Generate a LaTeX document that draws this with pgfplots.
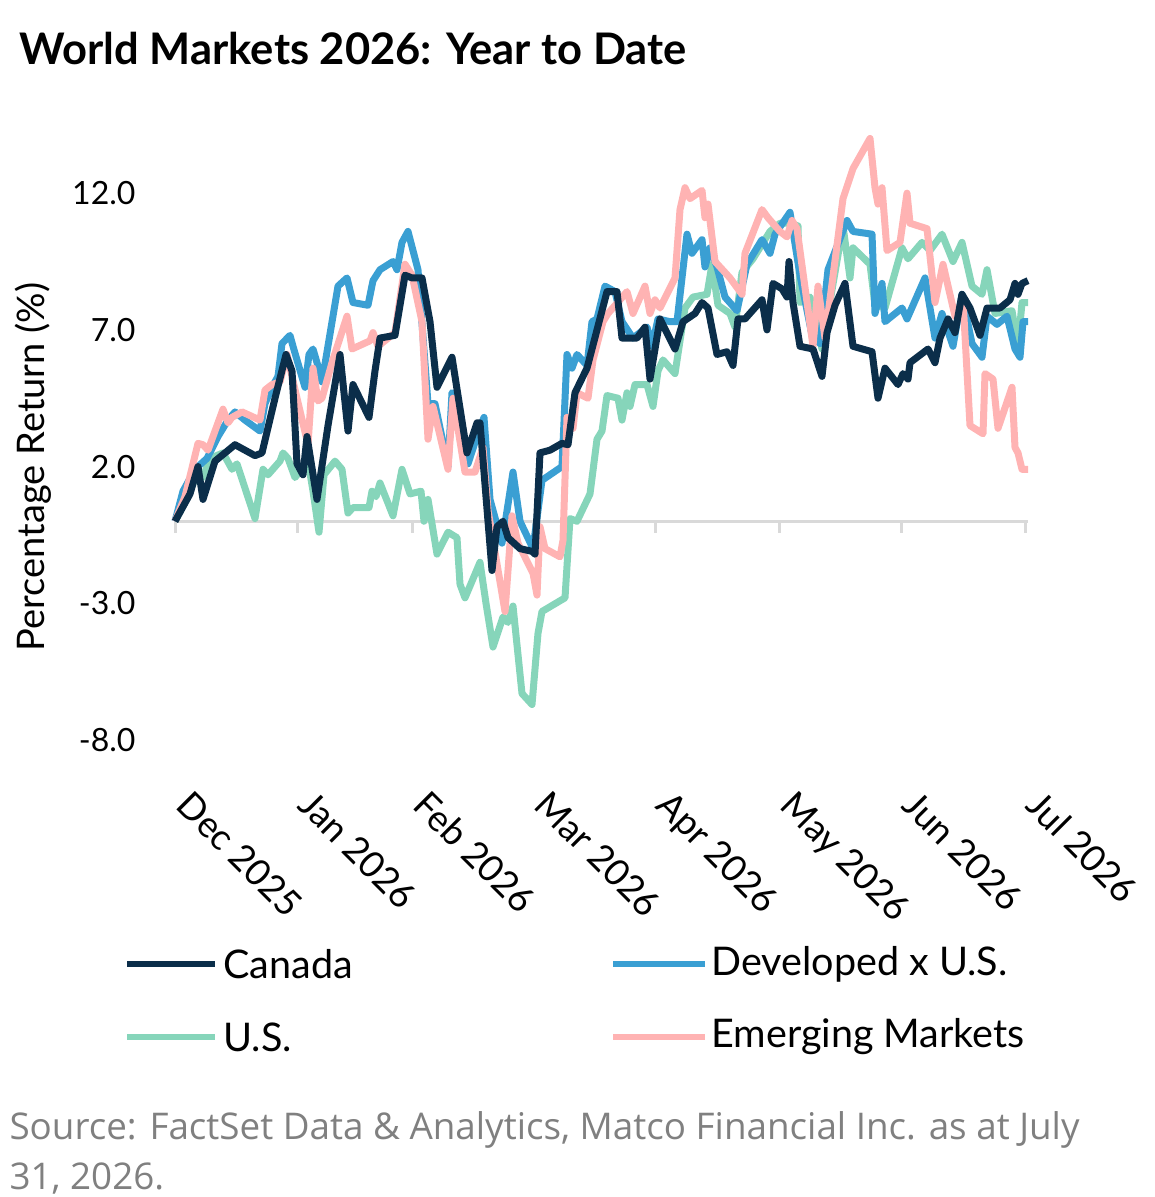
\documentclass[border=0pt]{standalone}
\usepackage{pgfplots}
\pgfplotsset{compat=1.18}
\usepackage{fontspec}
\setmainfont{Lato}
\newfontfamily\srcfont{Open Sans}
\definecolor{cCan}{HTML}{0B2E4A}
\definecolor{cDev}{HTML}{3A9FD3}
\definecolor{cUS}{HTML}{86D5BA}
\definecolor{cEM}{HTML}{FFB3B3}
\definecolor{cAx}{HTML}{D9D9D9}
\tikzset{ser/.style={line width=7pt,line join=round,no marks}}
\begin{document}
\begin{tikzpicture}[x=1pt,y=1pt]
\path[use as bounding box] (0pt,0pt) rectangle (1155pt,-1197pt);
\node[anchor=base west,font=\fontsize{43.5}{46}\selectfont\bfseries] at (16pt,-64pt) {World Markets 2026: Year to Date};
\begin{axis}[at={(175pt,-740pt)},anchor=south west,scale only axis,width=853pt,height=607pt,
 xmin=175,xmax=1028,ymin=-8,ymax=14.2,
 axis line style={draw=none},
 ytick={-8,-3,2,7,12},
 yticklabels={-8.0,-3.0,2.0,7.0,12.0},
 yticklabel style={font=\fontsize{32}{34}\selectfont,anchor=east,xshift=-36pt},
 /pgf/number format/assume math mode=true,
 ytick style={draw=none},
 xtick={175,297,412,533,655,779,901,1025},
 xticklabels={Dec 2025,Jan 2026,Feb 2026,Mar 2026,Apr 2026,May 2026,Jun 2026,Jul 2026},
 xticklabel style={font=\fontsize{36.5}{38}\selectfont,rotate=-45,anchor=north west,xshift=44pt,yshift=-18pt},
 xtick style={draw=none},
 ylabel={Percentage Return (\%)},
 ylabel style={font=\fontsize{38}{40}\selectfont,at={(ticklabel cs:0.45)},yshift=14pt},
 clip=false]
\draw[cAx,line width=3pt] (axis cs:175,0)--(axis cs:1028,0);
\pgfplotsinvokeforeach{175,297,412,533,655,779,901,1025}{\draw[cAx,line width=3pt] (axis cs:#1,0)--([yshift=-12pt]axis cs:#1,0);}
\addplot[cUS,ser] coordinates {(175,0)(185,0.7)(198,1.8)(203,1.6)(210,2.3)(223,2.5)(232,1.9)(237,2.1)(255,0.1)(263,1.9)(268,1.7)(280,2.2)(283,2.5)(288,2.3)(295,1.6)(308,2.2)(313,1.1)(319,-0.4)(324,1.7)(335,2.2)(342,1.9)(348,0.3)(353,0.5)(369,0.5)(372,1.1)(376,0.9)(380,1.4)(393,0.2)(402,1.9)(410,1.0)(421,1.1)(424,0)(428,0.8)(437,-1.2)(448,-0.4)(457,-0.6)(460,-2.3)(465,-2.8)(480,-1.5)(486,-3.0)(493,-4.6)(503,-3.5)(508,-3.7)(513,-3.1)(522,-6.3)(532,-6.7)(538,-4.1)(542,-3.3)(565,-2.8)(570,0.1)(577,0)(590,1.0)(597,3.0)(602,3.3)(607,4.6)(618,4.5)(622,3.7)(627,4.7)(630,4.2)(635,5.0)(647,5.0)(653,4.2)(658,5.5)(663,5.9)(675,5.4)(685,7.8)(693,8.2)(707,8.3)(712,9.4)(718,7.9)(730,7.6)(735,7.1)(742,9.1)(753,9.6)(770,10.6)(780,10.9)(790,10.9)(798,10.8)(800,8.0)(810,8.2)(822,6.3)(827,7.4)(843,10.8)(850,8.9)(853,10.0)(870,9.4)(875,7.9)(885,7.8)(902,10.0)(908,9.6)(922,10.2)(930,9.9)(942,10.5)(953,9.5)(962,10.2)(972,8.6)(982,8.3)(987,9.2)(995,7.6)(1012,7.7)(1018,6.4)(1022,8.0)(1028,8.0)};
\addplot[cDev,ser] coordinates {(175,0)(183,1.1)(195,1.9)(207,2.3)(218,3.1)(228,3.7)(235,4.0)(245,3.7)(260,3.3)(265,4.3)(272,4.9)(278,5.3)(282,6.5)(290,6.8)(293,6.4)(305,4.9)(309,6.1)(313,6.3)(317,5.8)(322,5.1)(338,8.6)(347,8.9)(353,8.0)(368,7.9)(373,8.8)(380,9.2)(393,9.5)(397,9.2)(402,10.2)(408,10.6)(418,9.2)(428,4.3)(435,4.3)(448,2.0)(452,4.7)(457,4.6)(468,2.1)(476,3.0)(484,3.8)(490,0.8)(502,-0.8)(513,1.8)(520,0)(533,-1.0)(542,1.5)(562,2.0)(567,6.1)(572,5.6)(577,6.1)(587,5.7)(592,7.3)(597,7.4)(605,8.6)(615,8.4)(622,7.3)(633,6.7)(647,7.1)(652,6.4)(658,7.4)(670,7.3)(677,7.3)(687,10.5)(692,9.8)(702,10.3)(705,9.3)(710,10.0)(717,9.3)(725,8.2)(737,7.7)(747,9.4)(762,10.3)(770,9.8)(775,10.5)(790,11.3)(800,9.0)(812,6.8)(820,6.5)(828,9.2)(847,11.0)(853,10.6)(872,10.5)(875,7.6)(882,8.7)(885,7.3)(902,7.8)(907,7.4)(925,8.9)(935,6.7)(942,7.6)(953,6.4)(962,8.3)(972,6.5)(982,6.0)(987,7.5)(997,7.2)(1007,7.5)(1015,6.3)(1020,6.0)(1023,7.3)(1028,7.3)};
\addplot[cEM,ser] coordinates {(175,0)(185,0.9)(198,2.85)(203,2.8)(208,2.6)(223,4.1)(228,3.6)(232,3.8)(242,4.0)(260,3.7)(265,4.8)(272,5.0)(280,5.1)(287,6.1)(297,4.5)(308,2.8)(313,5.6)(318,4.4)(322,4.5)(332,5.8)(347,7.5)(352,6.3)(370,6.6)(373,6.9)(378,6.4)(395,6.9)(405,9.4)(412,9.0)(422,7.3)(428,3.0)(433,4.2)(448,1.9)(453,4.5)(465,1.8)(475,1.8)(483,2.7)(488,0.4)(505,-3.3)(512,0.2)(518,-0.8)(533,-1.9)(537,-2.7)(540,-0.2)(545,-1.0)(560,-1.3)(563,-0.7)(567,3.8)(573,3.4)(577,4.7)(588,4.5)(593,5.9)(603,7.3)(608,7.6)(620,8.1)(627,8.4)(633,7.6)(645,8.6)(650,7.6)(655,8.1)(660,7.8)(675,8.9)(680,11.4)(685,12.2)(690,11.8)(702,12.1)(705,11.1)(708,11.6)(715,9.5)(730,8.9)(742,8.3)(745,9.8)(762,11.4)(768,11.1)(780,10.6)(787,10.4)(792,11.0)(797,10.7)(813,6.4)(818,8.6)(825,6.7)(843,11.8)(853,12.9)(870,14.0)(875,12.2)(878,11.6)(882,12.2)(887,9.9)(900,10.2)(907,12.0)(910,10.9)(927,10.7)(935,8.0)(943,9.4)(955,7.5)(963,8.1)(970,3.5)(983,3.2)(985,5.4)(993,5.2)(998,3.4)(1012,4.9)(1015,2.7)(1018,2.5)(1022,1.9)(1028,1.9)};
\addplot[cCan,ser] coordinates {(175,0)(190,1.0)(198,2.0)(203,0.8)(215,2.2)(225,2.5)(235,2.8)(255,2.4)(262,2.5)(275,4.5)(286,6.1)(292,5.5)(297,2.1)(303,1.7)(307,3.1)(317,0.8)(328,3.5)(340,6.1)(348,3.3)(353,5.0)(369,3.8)(375,5.5)(380,6.7)(395,6.8)(405,9.0)(412,8.9)(422,8.9)(430,7.3)(437,4.9)(452,6.0)(467,2.5)(477,3.6)(480,3.6)(492,-1.8)(497,-0.2)(503,0)(508,-0.6)(520,-1.0)(532,-1.1)(535,-1.2)(540,2.5)(550,2.6)(562,2.85)(568,2.8)(575,4.7)(587,5.6)(597,7.0)(607,8.4)(617,8.4)(622,6.7)(637,6.7)(645,7.1)(650,5.2)(660,7.4)(675,6.3)(683,7.3)(695,7.6)(702,8.0)(708,7.8)(717,6.1)(727,6.2)(733,5.7)(738,7.4)(745,7.4)(762,8.1)(767,7.0)(773,8.7)(782,8.5)(787,8.2)(789,9.5)(793,8.0)(800,6.4)(813,6.3)(822,5.3)(827,6.9)(835,7.9)(845,8.7)(853,6.4)(872,6.2)(878,4.5)(885,5.6)(898,5.0)(903,5.4)(908,5.2)(910,5.8)(928,6.3)(935,5.8)(940,6.7)(948,7.4)(955,6.9)(962,8.3)(970,7.8)(980,6.8)(987,7.8)(1000,7.8)(1010,8.1)(1015,8.7)(1018,8.3)(1022,8.7)(1028,8.8)};
\end{axis}
\begin{scope}[font=\fontsize{39.5}{42}\selectfont]
\draw[cCan,line width=6.5pt] (127pt,-964pt)--(215pt,-964pt); \node[anchor=west] at (220pt,-964pt) {Canada};
\draw[cDev,line width=6.5pt] (613pt,-964pt)--(705pt,-964pt); \node[anchor=west] at (708pt,-964pt) {Developed x U.S.};
\draw[cUS,line width=6.5pt] (127pt,-1037pt)--(215pt,-1037pt); \node[anchor=west] at (220pt,-1037pt) {U.S.};
\draw[cEM,line width=6.5pt] (613pt,-1037pt)--(705pt,-1037pt); \node[anchor=west] at (708pt,-1037pt) {Emerging Markets};
\end{scope}
\node[anchor=base west,text=gray,font=\srcfont\fontsize{36.8}{40}\selectfont] at (6pt,-1139pt) {Source: FactSet Data \& Analytics, Matco Financial Inc. as at July};
\node[anchor=base west,text=gray,font=\srcfont\fontsize{36.8}{40}\selectfont] at (6pt,-1189pt) {31, 2026.};
\end{tikzpicture}
\end{document}
